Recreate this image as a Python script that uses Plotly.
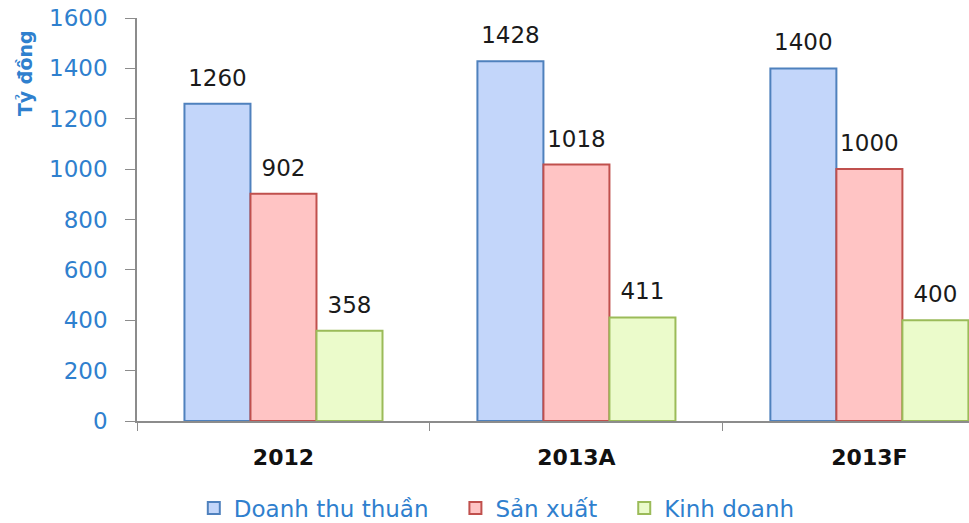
import plotly.graph_objects as go

categories = ["2012", "2013A", "2013F"]
doanh_thu = [1260, 1428, 1400]
san_xuat = [902, 1018, 1000]
kinh_doanh = [358, 411, 400]
series_names = ["Doanh thu thuần", "Sản xuất", "Kinh doanh"]
y_ticks = [0, 200, 400, 600, 800, 1000, 1200, 1400, 1600]

fills = ["#C3D6FA", "#FFC4C4", "#EBFBCB"]
borders = ["#4F81BD", "#C0504D", "#9BBB59"]
blue_text = "#2F80CE"
font_fam = "DejaVu Sans"
pad = "\u00a0" * 3

fig = go.Figure()
all_vals = [doanh_thu, san_xuat, kinh_doanh]
for i, (name, vals, fc, bc) in enumerate(zip(series_names, all_vals, fills, borders)):
    fig.add_trace(go.Bar(
        x=categories, y=vals, name=name + (pad if i < 2 else ""),
        marker=dict(color=fc, line=dict(color=bc, width=2)),
        hoverinfo="skip",
    ))
for i, vals in enumerate(all_vals):
    fig.add_trace(go.Scatter(
        x=categories, y=vals, mode="markers+text", text=[str(v) for v in vals],
        textposition="top center",
        textfont=dict(family=font_fam, size=23, color="#1a1a1a"),
        marker=dict(size=18, opacity=0), showlegend=False, cliponaxis=False,
        hoverinfo="skip",
    ))

fig.update_layout(
    width=969, height=523,
    margin=dict(l=137, r=0, t=18, b=102),
    paper_bgcolor="white", plot_bgcolor="white",
    barmode="group", bargap=0.324, bargroupgap=0,
    scattermode="group", scattergap=0.324,
    font=dict(family=font_fam),
    showlegend=True,
    legend=dict(orientation="h", xref="container", x=0.2, xanchor="left",
                yref="container", y=0.0287, yanchor="middle",
                font=dict(family=font_fam, size=23, color=blue_text),
                itemwidth=30, traceorder="normal"),
    annotations=[dict(text="<b>Tỷ đồng</b>", xref="paper", yref="paper",
                      x=-0.1346, y=0.975, xanchor="center", yanchor="top",
                      textangle=-90, showarrow=False,
                      font=dict(family=font_fam, size=19, color=blue_text))],
)
fig.update_xaxes(
    range=[-0.5, 2.34], showline=True, linecolor="#8c8c8c", linewidth=1.5,
    ticks="outside", tickson="boundaries", ticklen=8, tickcolor="#8c8c8c",
    ticklabelstandoff=16,
    tickfont=dict(family=font_fam, size=22, color="#111111", weight="bold"),
    showgrid=False,
)
fig.update_yaxes(
    range=[0, 1600], tickvals=y_ticks, showline=True, linecolor="#8c8c8c", linewidth=1.5,
    ticks="outside", ticklen=10, tickcolor="#8c8c8c", ticklabelstandoff=13,
    ticklabeloverflow="allow",
    tickfont=dict(family=font_fam, size=23, color=blue_text),
    showgrid=False, zeroline=False,
)

fig.write_html("out.html", config={"displayModeBar": False},
               post_script="document.body.style.margin='0';")
